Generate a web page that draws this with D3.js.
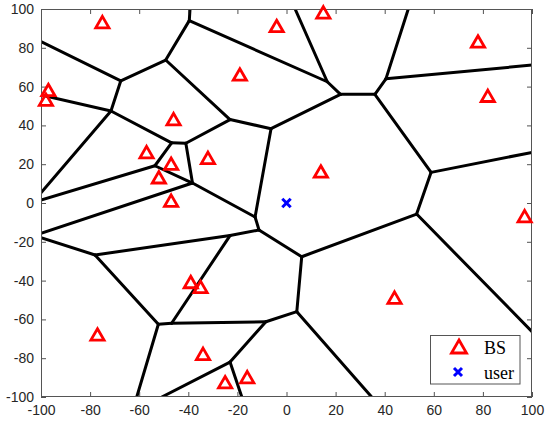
<!DOCTYPE html>
<html>
<head>
<meta charset="utf-8">
<script src="https://cdn.jsdelivr.net/npm/d3@7"></script>
<style>
  html, body { margin: 0; padding: 0; background: #fff; }
  svg { display: block; }
</style>
</head>
<body>
<svg id="chart" width="550" height="429"></svg>
<script>
// ---- data ----
const xTicks = [-100, -80, -60, -40, -20, 0, 20, 40, 60, 80, 100];
const yTicks = [-100, -80, -60, -40, -20, 0, 20, 40, 60, 80, 100];

// base stations (x, y)
const bsX = [-75, -97, -98, -46, -57, -47, -52, -47, -4, 15, -19, -32, 14, 78, 82, 97, 44, -77, -39, -35, -34, -25, -16];
const bsY = [93, 58, 53, 43, 26, 20, 13, 1, 91, 98, 66, 23, 16, 83, 55, -7, -49, -68, -41, -43.5, -78, -92.6, -90];

// user
const userX = [0];
const userY = [0];

// Voronoi cell edges: [x1, y1, x2, y2]
const voronoiEdges = [
  [-100, 83.2, -67.5, 63],
  [-67.5, 63, -49.2, 73.7],
  [-49.2, 73.7, -39.6, 94],
  [-39.6, 94, -39.3, 100],
  [-39.6, 94, 16.6, 62.5],
  [3.5, 100, 16.6, 62.5],
  [16.6, 62.5, 22, 56],
  [22, 56, 36, 56],
  [36, 56, 40.5, 64],
  [40.5, 64, 49.6, 100],
  [40.5, 64, 100, 71.1],
  [36, 56, 58.9, 15.8],
  [58.9, 15.8, 100, 26.1],
  [58.9, 15.8, 53, -5.7],
  [53, -5.7, 100, -66.3],
  [53, -5.7, 6.2, -27.7],
  [22, 56, -6.3, 38.3],
  [-6.3, 38.3, -23, 43],
  [-6.3, 38.3, -12.8, -7.2],
  [-49.2, 73.7, -23, 43],
  [-23, 43, -41, 30.8],
  [-67.5, 63, -71.5, 47.4],
  [-100, 55.7, -71.5, 47.4],
  [-71.5, 47.4, -46.8, 31],
  [-46.8, 31, -41, 30.8],
  [-71.5, 47.4, -100, 5.3],
  [-46.8, 31, -53.6, 19.2],
  [-53.6, 19.2, -100, 1.5],
  [-53.6, 19.2, -38.3, 10.3],
  [-41, 30.8, -38.3, 10.3],
  [-38.3, 10.3, -12.8, -7.2],
  [-38.3, 10.3, -100, -15.6],
  [-12.8, -7.2, -11.2, -13.9],
  [-11.2, -13.9, 6.2, -27.7],
  [-11.2, -13.9, -23, -16.8],
  [-23, -16.8, -78, -26.8],
  [-78, -26.8, -100, -17.9],
  [-78, -26.8, -52.2, -62.5],
  [-52.2, -62.5, -46.8, -62],
  [-52.2, -62.5, -61, -100],
  [-46.8, -62, -23, -16.8],
  [-46.8, -62, -8.4, -61.2],
  [-8.4, -61.2, 4.2, -56],
  [4.2, -56, 6.2, -27.7],
  [4.2, -56, 34.7, -100],
  [-8.4, -61.2, -23, -82],
  [-23, -82, -18.2, -100],
  [-23, -82, -50.8, -100]
];

const legendLabels = ["BS", "user"];

// ---- drawing ----
const svg = d3.select("#chart");
const pLeft = 41, pRight = 532, pTop = 9, pBottom = 397;
const x = d3.scaleLinear().domain([-100, 100]).range([pLeft, pRight]);
const y = d3.scaleLinear().domain([-100, 100]).range([pBottom, pTop]);

const axisColor = "#262626";
const fontSans = "'Liberation Sans', Arial, Helvetica, sans-serif";

const plot = svg.append("g");
plot.append("clipPath").attr("id", "clip")
  .append("rect").attr("x", pLeft).attr("y", pTop).attr("width", pRight - pLeft).attr("height", pBottom - pTop);

// Voronoi edges
plot.append("g").attr("clip-path", "url(#clip)")
  .selectAll("line").data(voronoiEdges).join("line")
  .attr("x1", d => x(d[0])).attr("y1", d => y(d[1]))
  .attr("x2", d => x(d[2])).attr("y2", d => y(d[3]))
  .attr("stroke", "#000").attr("stroke-width", 3).attr("stroke-linecap", "round");

// axes
function styleAxis(g, labels) {
  g.select(".domain").remove();
  g.selectAll(".tick line").attr("stroke", axisColor).attr("stroke-width", 0.8);
  g.selectAll(".tick text").attr("fill", axisColor)
    .style("font-family", fontSans).style("font-size", "14px");
  if (!labels) g.selectAll(".tick text").remove();
}
const fmt = d => String(d);
svg.append("g").attr("transform", `translate(0,${pBottom})`)
  .call(d3.axisBottom(x).tickValues(xTicks).tickFormat(fmt).tickSize(-5).tickPadding(8))
  .call(g => styleAxis(g, true));
svg.append("g").attr("transform", `translate(0,${pTop})`)
  .call(d3.axisTop(x).tickValues(xTicks).tickSize(-5))
  .call(g => styleAxis(g, false));
svg.append("g").attr("transform", `translate(${pLeft},0)`)
  .call(d3.axisLeft(y).tickValues(yTicks).tickFormat(fmt).tickSize(-5).tickPadding(7))
  .call(g => styleAxis(g, true));
svg.append("g").attr("transform", `translate(${pRight},0)`)
  .call(d3.axisRight(y).tickValues(yTicks).tickSize(-5))
  .call(g => styleAxis(g, false));

// box
svg.append("rect").attr("x", pLeft + 0.5).attr("y", pTop + 0.5)
  .attr("width", pRight - pLeft - 1).attr("height", pBottom - pTop - 1)
  .attr("fill", "none").attr("stroke", "#555").attr("stroke-width", 1);

// markers
function triPath(s) {
  const h = s * 0.866 * 2;
  return `M0,${-h/2 - 0.5}L${s},${h/2 - 0.5}L${-s},${h/2 - 0.5}Z`;
}
function crossPath(s) {
  return `M${-s},${-s}L${s},${s}M${-s},${s}L${s},${-s}`;
}
const bs = bsX.map((v, i) => [v, bsY[i]]);
svg.append("g").selectAll("path").data(bs).join("path")
  .attr("transform", d => `translate(${x(d[0])},${y(d[1])})`)
  .attr("d", triPath(6.6))
  .attr("fill", "none").attr("stroke", "#ff0000").attr("stroke-width", 2.8)
  .attr("stroke-linejoin", "miter");

const users = userX.map((v, i) => [v, userY[i]]);
svg.append("g").selectAll("path").data(users).join("path")
  .attr("transform", d => `translate(${x(d[0])},${y(d[1])})`)
  .attr("d", crossPath(4.2))
  .attr("fill", "none").attr("stroke", "#0000ff").attr("stroke-width", 3);

// legend
const lg = svg.append("g");
lg.append("rect").attr("x", 430.5).attr("y", 335.5).attr("width", 89.5).attr("height", 48.5)
  .attr("fill", "#fff").attr("stroke", "#555").attr("stroke-width", 1);
const legendY = [347, 372];
lg.append("path").attr("transform", `translate(459,${legendY[0]})`)
  .attr("d", triPath(7.5)).attr("fill", "none").attr("stroke", "#ff0000").attr("stroke-width", 2.8);
lg.append("path").attr("transform", `translate(458,${legendY[1]})`)
  .attr("d", crossPath(4)).attr("fill", "none").attr("stroke", "#0000ff").attr("stroke-width", 3);
lg.selectAll("text").data(legendLabels).join("text")
  .attr("x", 484).attr("y", (d, i) => legendY[i] + 6.5)
  .text(d => d)
  .style("font-family", "'Liberation Serif', 'Times New Roman', serif")
  .style("font-size", "18px").attr("fill", "#000");
</script>
</body>
</html>
